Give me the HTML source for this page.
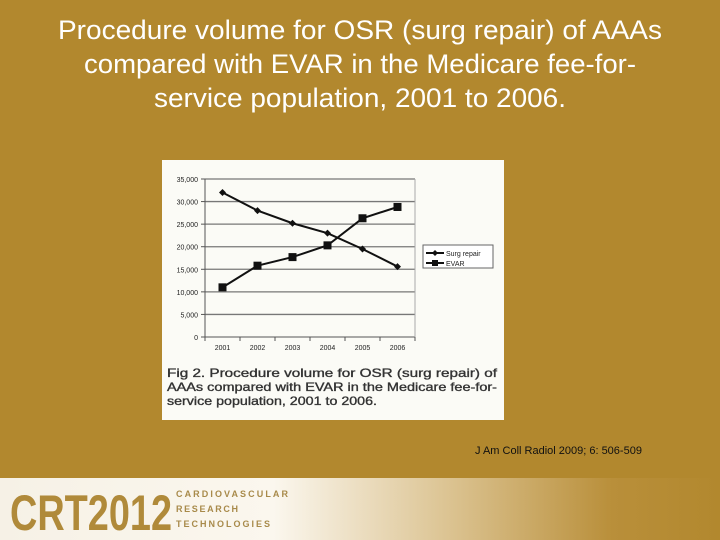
<!DOCTYPE html>
<html><head><meta charset="utf-8"><style>
html,body{margin:0;padding:0;background:#b2882e;}
svg{display:block;font-family:"Liberation Sans",Arial,sans-serif;}
</style></head><body>
<svg width="720" height="540" viewBox="0 0 720 540" xmlns="http://www.w3.org/2000/svg">
<defs>
<linearGradient id="fg" x1="0" x2="1" y1="0" y2="0">
<stop offset="0" stop-color="#f6f1e6"/><stop offset="0.38" stop-color="#fbf7ee"/>
<stop offset="0.62" stop-color="#dcc493"/><stop offset="0.85" stop-color="#b98f3a"/><stop offset="1" stop-color="#b2882e"/>
</linearGradient>
</defs>
<rect x="0" y="0" width="720" height="540" fill="#b2882e"/>
<g fill="#ffffff" font-size="27" text-anchor="middle">
<text x="360" y="39" textLength="604" lengthAdjust="spacingAndGlyphs">Procedure volume for OSR (surg repair) of AAAs</text>
<text x="360" y="73" textLength="552" lengthAdjust="spacingAndGlyphs">compared with EVAR in the Medicare fee-for-</text>
<text x="360" y="107" textLength="412" lengthAdjust="spacingAndGlyphs">service population, 2001 to 2006.</text>
</g>
<rect x="162" y="160" width="342" height="260" fill="#fbfbf6"/>
<g id="chart"></g>
<g font-size="12" fill="#333" stroke="#333" stroke-width="0.35">
<text x="167" y="377" textLength="330" lengthAdjust="spacingAndGlyphs">Fig 2. Procedure volume for OSR (surg repair) of</text>
<text x="167" y="391" textLength="330" lengthAdjust="spacingAndGlyphs">AAAs compared with EVAR in the Medicare fee-for-</text>
<text x="167" y="405" textLength="210" lengthAdjust="spacingAndGlyphs">service population, 2001 to 2006.</text>
</g>
<text x="475" y="454" font-size="11" fill="#111">J Am Coll Radiol 2009; 6: 506-509</text>
<rect x="0" y="478" width="720" height="62" fill="url(#fg)"/>
<g>
<text x="10" y="530" font-size="50" font-weight="bold" fill="#b08a3a" textLength="162" lengthAdjust="spacingAndGlyphs">CRT2012</text>
<g font-size="9" font-weight="bold" fill="#a88a4a">
<text x="176" y="497" textLength="112" lengthAdjust="spacing">CARDIOVASCULAR</text>
<text x="176" y="512" textLength="62" lengthAdjust="spacing">RESEARCH</text>
<text x="176" y="527" textLength="94" lengthAdjust="spacing">TECHNOLOGIES</text>
</g>
</g>
</svg>
<script>
const years=["2001","2002","2003","2004","2005","2006"];
const surgRepair=[32000,28000,25200,23000,19500,15600];
const evar=[11000,15800,17700,20300,26300,28800];
const yTicks=[0,5000,10000,15000,20000,25000,30000,35000];
const yTickLabels=["0","5,000","10,000","15,000","20,000","25,000","30,000","35,000"];
const NS="http://www.w3.org/2000/svg";
const g=document.getElementById('chart');
const L=205,R=415,T=179,B=337,yMax=35000;
const y=v=>B-(v/yMax)*(B-T);
const step=(R-L)/years.length;
const x=i=>L+step*(i+0.5);
function mk(t,a,p){const e=document.createElementNS(NS,t);for(const k in a)e.setAttribute(k,a[k]);(p||g).appendChild(e);return e;}
yTicks.forEach((v,i)=>{
 if(v>0){const l=mk('line',{x1:L,x2:R,y1:y(v),y2:y(v),stroke:'#777','stroke-width':1.3});
 
 }
 mk('line',{x1:L-4,x2:L,y1:y(v),y2:y(v),stroke:'#555'});
 const t=mk('text',{x:L-7,y:y(v)+3,'font-size':7,'text-anchor':'end',fill:'#222'});t.textContent=yTickLabels[i];
 
 
});
mk('line',{x1:L,x2:L,y1:T,y2:B,stroke:'#555'});
mk('line',{x1:L,x2:R,y1:B,y2:B,stroke:'#555'});
mk('line',{x1:R,x2:R,y1:T,y2:B,stroke:'#aaa'});
for(let i=0;i<=years.length;i++){mk('line',{x1:L+step*i,x2:L+step*i,y1:B,y2:B+4,stroke:'#555'});}
years.forEach((yr,i)=>{
 const t=mk('text',{x:x(i),y:B+13,'font-size':7,'text-anchor':'middle',fill:'#222'});t.textContent=yr;
 
 
});
function series(vals,name,sq){
 const p=mk('polyline',{points:vals.map((v,i)=>x(i)+','+y(v)).join(' '),fill:'none',stroke:'#111','stroke-width':2});
 
 
 vals.forEach((v,i)=>{
  let m;
  if(sq)m=mk('rect',{x:x(i)-4,y:y(v)-4,width:8,height:8,fill:'#111'});
  else m=mk('polygon',{points:`${x(i)},${y(v)-3.5} ${x(i)+3.5},${y(v)} ${x(i)},${y(v)+3.5} ${x(i)-3.5},${y(v)}`,fill:'#111'});
  
  
 });
}
series(surgRepair,'surg-repair',false);
series(evar,'evar',true);
const lg=mk('g',{});


mk('rect',{x:423,y:245,width:70,height:23,fill:'#fff',stroke:'#666'},lg);
mk('line',{x1:426,x2:444,y1:253,y2:253,stroke:'#111','stroke-width':2},lg);
mk('polygon',{points:'435,250 438,253 435,256 432,253',fill:'#111'},lg);
const t1=mk('text',{x:446,y:256,'font-size':7,fill:'#222'},lg);t1.textContent='Surg repair';
mk('line',{x1:426,x2:444,y1:263,y2:263,stroke:'#111','stroke-width':2},lg);
mk('rect',{x:432,y:260,width:6,height:6,fill:'#111'},lg);
const t2=mk('text',{x:446,y:266,'font-size':7,fill:'#222'},lg);t2.textContent='EVAR';
</script>
</body></html>
